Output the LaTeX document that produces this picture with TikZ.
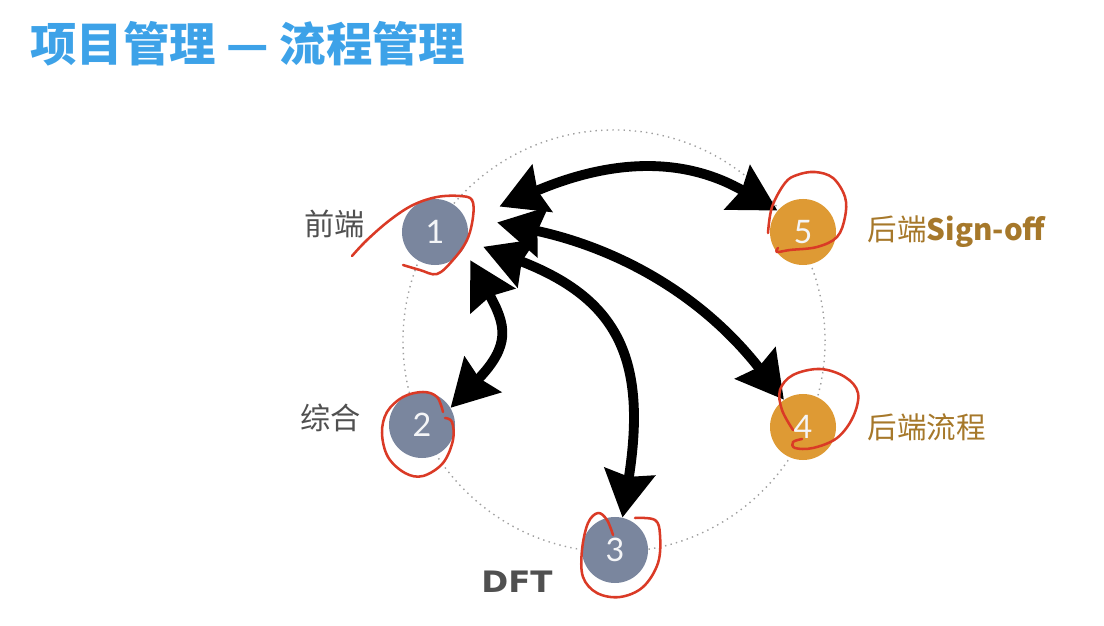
\documentclass[tikz,border=0pt]{standalone}
\usepackage{fontspec}
\usetikzlibrary{arrows.meta,positioning}
\newfontfamily\cjk{Noto Sans CJK SC}
\newfontfamily\numfont{Lato}
\newfontfamily\dvfont{DejaVu Sans}
\definecolor{myblue}{RGB}{61,162,232}
\definecolor{mygrey}{RGB}{122,134,158}
\definecolor{myorange}{RGB}{222,154,52}
\definecolor{mygold}{RGB}{166,120,42}
\definecolor{mytext}{RGB}{80,80,80}
\definecolor{myred}{RGB}{218,58,38}

\begin{document}
\begin{tikzpicture}[x=0.025cm,y=0.025cm,
  anode/.style={circle,minimum size=1.65cm,inner sep=0pt,text=white!92!mygrey,
    font=\numfont\fontsize{23}{23}\selectfont},
  gnode/.style={anode,fill=mygrey},
  onode/.style={anode,fill=myorange},
  darr/.style={line width=7pt,
    {Stealth[length=1.15cm,width=1.25cm,inset=0.12cm]}-{Stealth[length=1.15cm,width=1.25cm,inset=0.12cm]}},
  dotcirc/.style={gray!75,line width=1pt,dash pattern=on 1pt off 3pt},
  redink/.style={myred,line width=1.8pt,line cap=round,line join=round},
  lbl/.style={inner sep=0pt,text=mytext,font=\cjk\fontsize{21.5}{21.5}\selectfont},
  blbl/.style={inner sep=0pt,text=mygold,font=\cjk\fontsize{21}{21}\selectfont}]

 \useasboundingbox (0,0) rectangle (1104,625);

 \node[inner sep=0pt,anchor=west,text=myblue,font=\cjk\bfseries\fontsize{33}{33}\selectfont]
   (title) at (30,581) {项目管理 — 流程管理};

 \coordinate (ctr) at (614,284);
 \draw[dotcirc] (ctr) circle[radius=5.275cm];

 % the five stages
 \node[gnode] (n1) at (435,393) {1};
 \node[gnode] (n2) at (422,200) {2};
 \node[gnode] (n3) at (615,75) {3};
 \node[onode] (n4) at (803,198) {4};
 \node[onode] (n5) at (803,393) {5};

 \node[lbl,left=0.92cm of n1,yshift=0.2cm] (l1) {前端};
 \node[lbl,left=0.68cm of n2,yshift=0.18cm] (l2) {综合};
 \node[inner sep=0pt,text=mytext,font=\dvfont\bfseries\fontsize{21}{21}\selectfont,
   xscale=1.1,left=0.72cm of n3,yshift=-0.8cm] (l3) {DFT};
 \node[blbl,right=0.78cm of n4] (l4) {后端流程};
 \node[blbl,right=0.78cm of n5] (l5) {后端{\bfseries Sign-off}};

 % arrows out of the front end
 \draw[darr,shorten <=0.9cm] (n1.20) to[out=23,in=150,looseness=1.05] (n5.140);
 \draw[darr,shorten <=0.85cm] (n1.30) to[out=-12,in=128] (n4.125);
 \draw[darr,shorten <=0.43cm] (n1.-15) to[out=-21,in=81,looseness=1.3] (n3.77);
 \draw[darr,shorten <=0.33cm] (n1.-30) to[out=-61,in=46,looseness=1.4] (n2.31);

 % hand drawn marks
 \draw[redink] plot[smooth,tension=0.6] coordinates {(352,369) (367,385) (390,405) (413,420)
   (437,428) (460,429) (472,425) (473,408) (467,385) (453,365) (437,351) (420,355) (403,360)};
 \draw[redink] plot[smooth,tension=0.6] coordinates {(443,213) (437,228) (423,233) (403,228)
   (387,213) (382,192) (388,168) (405,152) (423,149) (443,162) (453,185) (452,203) (445,207)};
 \draw[redink] plot[smooth,tension=0.6] coordinates {(613,90) (607,105) (598,112) (588,102)
   (582,75) (583,48) (597,32) (620,28) (643,38) (658,62) (660,90) (655,105) (635,107)};
 \draw[redink] plot[smooth,tension=0.6] coordinates {(793,195) (782,215) (780,235) (793,250)
   (820,256) (845,248) (858,232) (853,208) (837,187) (813,177) (795,177) (793,183) (802,186)};
 \draw[redink] plot[smooth,tension=0.6] coordinates {(768,392) (772,418) (785,442) (797,450)
   (815,453) (833,447) (845,428) (845,408) (837,388) (817,378) (790,375) (777,373) (778,377)};

\end{tikzpicture}
\end{document}
